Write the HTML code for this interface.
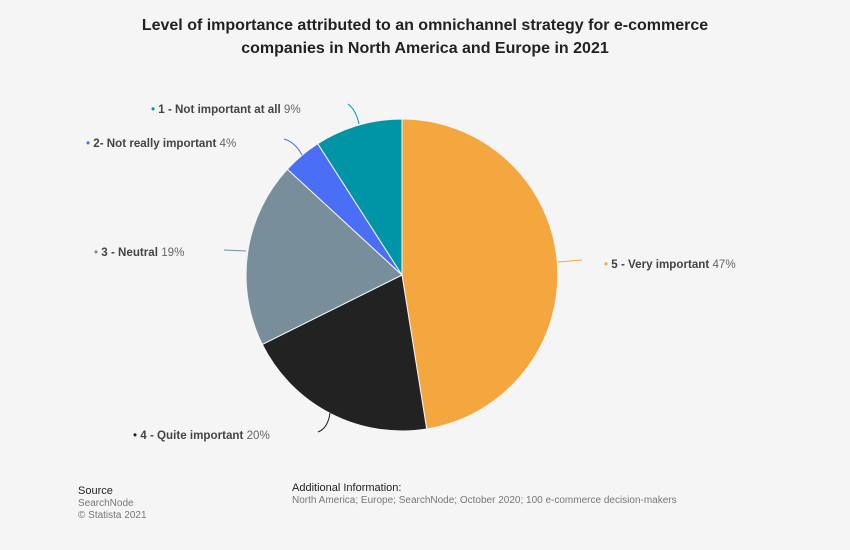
<!DOCTYPE html>
<html><head><meta charset="utf-8"><style>
body{margin:0;width:850px;height:545px;background:#f5f5f5;font-family:"Liberation Sans",Arial,sans-serif;overflow:hidden}
</style></head><body>
<svg width="850" height="545" xmlns="http://www.w3.org/2000/svg" font-family="Liberation Sans, Arial, sans-serif">
<rect width="850" height="545" fill="#f5f5f5"/>
<text x="425" y="30" text-anchor="middle" font-size="16" font-weight="bold" fill="#222">Level of importance attributed to an omnichannel strategy for e-commerce</text>
<text x="425" y="53" text-anchor="middle" font-size="16" font-weight="bold" fill="#222">companies in North America and Europe in 2021</text>
<g stroke="#f5f5f5" stroke-width="1">
<path d="M402,275 L402,119 A156,156 0 0 1 426.7,429 Z" fill="#f4a73f"/>
<path d="M402,275 L426.7,429 A156,156 0 0 1 262.3,344.4 Z" fill="#222222"/>
<path d="M402,275 L262.3,344.4 A156,156 0 0 1 287.4,169.2 Z" fill="#788f9b"/>
<path d="M402,275 L287.4,169.2 A156,156 0 0 1 317.7,143.7 Z" fill="#4b6ef6"/>
<path d="M402,275 L317.7,143.7 A156,156 0 0 1 402,119 Z" fill="#0095a6"/>
</g>
<g fill="none" stroke-width="1">
<path d="M558,262 Q570,261 582,260" stroke="#f4a73f"/>
<path d="M330,413 Q328,428 318,432" stroke="#222"/>
<path d="M246,251 L224,250" stroke="#788f9b"/>
<path d="M302,155 Q295,142 284,139" stroke="#4b6ef6"/>
<path d="M359,124 Q356,110 348,104" stroke="#0095a6"/>
</g>
<g font-size="11.6" fill="#444">
<text x="604" y="268"><tspan fill="#f4a73f">• </tspan><tspan font-weight="bold">5 - Very important</tspan><tspan fill="#666"> 47%</tspan></text>
<text x="133" y="439"><tspan fill="#222">• </tspan><tspan font-weight="bold">4 - Quite important</tspan><tspan fill="#666"> 20%</tspan></text>
<text x="94" y="256"><tspan fill="#788f9b">• </tspan><tspan font-weight="bold">3 - Neutral</tspan><tspan fill="#666"> 19%</tspan></text>
<text x="86" y="147"><tspan fill="#4b6ef6">• </tspan><tspan font-weight="bold">2- Not really important</tspan><tspan fill="#666"> 4%</tspan></text>
<text x="151" y="113"><tspan fill="#0095a6">• </tspan><tspan font-weight="bold">1 - Not important at all</tspan><tspan fill="#666"> 9%</tspan></text>
</g>
<text x="78" y="494" font-size="11" fill="#222">Source</text>
<text x="78" y="506" font-size="10" fill="#777">SearchNode</text>
<text x="78" y="518" font-size="10" fill="#777">© Statista 2021</text>
<text x="292" y="491" font-size="11" fill="#222">Additional Information:</text>
<text x="292" y="503" font-size="10" fill="#777">North America; Europe; SearchNode; October 2020; 100 e-commerce decision-makers</text>
</svg>
</body></html>
